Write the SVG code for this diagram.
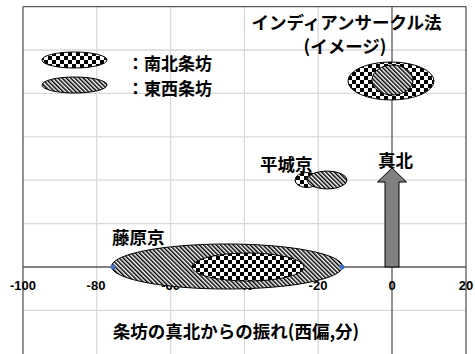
<svg xmlns="http://www.w3.org/2000/svg" width="475" height="354" viewBox="0 0 475 354">
<defs>
<pattern id="checker" width="8" height="8" patternUnits="userSpaceOnUse">
<rect width="8" height="8" fill="#fff"/>
<rect width="4" height="4" fill="#000"/>
<rect x="4" y="4" width="4" height="4" fill="#000"/>
</pattern>
<pattern id="hatch" width="3" height="3" patternUnits="userSpaceOnUse" patternTransform="rotate(-45)">
<rect width="3" height="3" fill="#fff"/>
<rect width="1.5" height="3" fill="#000"/>
</pattern>
<style>
.grid{stroke:#d9d9d9;stroke-width:1.3;fill:none}
.axis{stroke:#595959;stroke-width:1.3;fill:none}
.ck{fill:url(#checker);stroke:#000;stroke-width:1}
.ht{fill:url(#hatch);stroke:#000;stroke-width:1}
.jp{font-family:"Noto Sans CJK JP","Noto Sans",sans-serif;font-size:17.5px;font-weight:bold;fill:#000}
.lg{font-size:17px}
.tick{font-family:"Liberation Sans",Arial,sans-serif;font-size:13px;font-weight:bold;fill:#000;text-anchor:middle}
</style>
</defs>
<rect width="475" height="354" fill="#fff"/>
<g id="grid">
<path class="grid" d="M96.8 6.6V354M170.6 6.6V354M244.4 6.6V354M318.2 6.6V354"/>
<path class="grid" d="M23 50H466M23 93.4H466M23 136.8H466M23 180.2H466M23 223.6H466M23 310.4H466"/>
<path class="axis" d="M23 6.6H466M466 6.6V354M23 6.6V354M392 6.6V354M23 267H466"/>
</g>
<g id="ticks">
<text class="tick" x="23" y="290">-100</text>
<text class="tick" x="96" y="290">-80</text>
<text class="tick" x="170.6" y="290">-60</text>
<text class="tick" x="244.4" y="290">-40</text>
<text class="tick" x="318" y="290">-20</text>
<text class="tick" x="392" y="290">0</text>
<text class="tick" x="466" y="290">20</text>
</g>
<g id="axis-title">
<text class="jp" x="236" y="338" text-anchor="middle">条坊の真北からの振れ(西偏,分)</text>
</g>
<g id="legend">
<ellipse class="ck" cx="74.5" cy="60" rx="32.5" ry="8"/>
<ellipse class="ht" cx="74.5" cy="85" rx="32.5" ry="8"/>
<text class="jp lg" x="127" y="70">：南北条坊</text>
<text class="jp lg" x="127" y="95">：東西条坊</text>
</g>
<g id="indian-circle">
<text class="jp" x="346.5" y="28.5" font-size="18px" text-anchor="middle">インディアンサークル法</text>
<text class="jp" x="345" y="53" font-size="17px" text-anchor="middle">(イメージ)</text>
<ellipse class="ck" cx="391" cy="81" rx="43" ry="19"/>
<ellipse class="ht" cx="392.5" cy="80" rx="20.5" ry="15"/>
</g>
<g id="heijokyo">
<text class="jp" x="260" y="171">平城京</text>
<ellipse class="ck" cx="307" cy="180" rx="12" ry="7.5"/>
<ellipse class="ht" cx="327" cy="180" rx="20" ry="9"/>
</g>
<g id="fujiwarakyo">
<text class="jp" x="112" y="244">藤原京</text>
<ellipse class="ht" cx="227" cy="266.5" rx="115.5" ry="22.5"/>
<ellipse class="ck" cx="248" cy="267" rx="56" ry="14"/>
<circle cx="113" cy="267" r="2.5" fill="#4472c4"/>
<circle cx="342" cy="267" r="2.5" fill="#4472c4"/>
</g>
<g id="true-north">
<text class="jp" x="378" y="167">真北</text>
<path d="M392 168L406.5 182H399V267H385V182H377.5Z" fill="#808080" stroke="#000" stroke-width="1"/>
</g>
<g id="connectors"/>
</svg>
